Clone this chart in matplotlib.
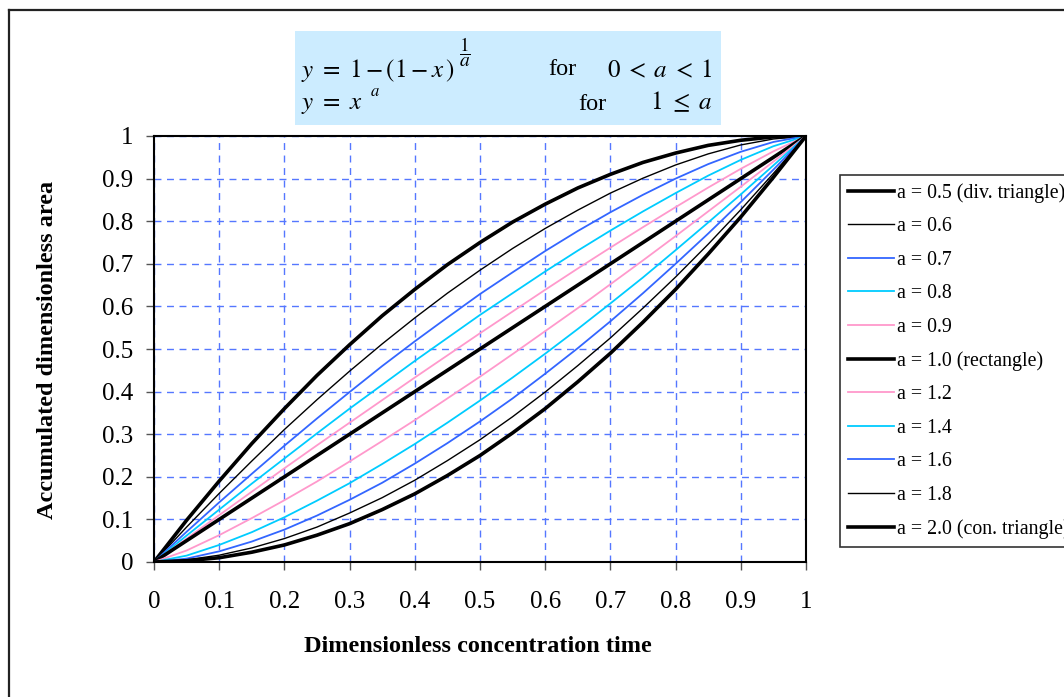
import matplotlib
matplotlib.use("Agg")
import matplotlib.pyplot as plt
from matplotlib.patches import Rectangle
from matplotlib.lines import Line2D

plt.rcParams['font.family'] = ['Liberation Serif', 'DejaVu Serif']
plt.rcParams['mathtext.fontset'] = 'stix'

# dimensionless concentration time
x = [0, 0.05, 0.1, 0.15, 0.2, 0.25, 0.3, 0.35, 0.4, 0.45, 0.5,
     0.55, 0.6, 0.65, 0.7, 0.75, 0.8, 0.85, 0.9, 0.95, 1]

y_05 = [0, 0.098, 0.190, 0.278, 0.360, 0.438, 0.510, 0.578, 0.640, 0.698, 0.750,
        0.798, 0.840, 0.878, 0.910, 0.938, 0.960, 0.978, 0.990, 0.998, 1]
y_06 = [0, 0.082, 0.161, 0.237, 0.311, 0.381, 0.448, 0.512, 0.573, 0.631, 0.685,
        0.736, 0.783, 0.826, 0.866, 0.901, 0.932, 0.958, 0.979, 0.993, 1]
y_07 = [0, 0.071, 0.140, 0.207, 0.273, 0.337, 0.399, 0.460, 0.518, 0.574, 0.629,
        0.680, 0.730, 0.777, 0.821, 0.862, 0.900, 0.934, 0.963, 0.986, 1]
y_08 = [0, 0.062, 0.123, 0.184, 0.243, 0.302, 0.360, 0.416, 0.472, 0.526, 0.580,
        0.631, 0.682, 0.731, 0.778, 0.823, 0.866, 0.907, 0.944, 0.976, 1]
y_09 = [0, 0.055, 0.110, 0.165, 0.220, 0.274, 0.327, 0.380, 0.433, 0.485, 0.537,
        0.588, 0.639, 0.689, 0.738, 0.786, 0.833, 0.879, 0.923, 0.964, 1]
y_10 = [0, 0.05, 0.1, 0.15, 0.2, 0.25, 0.3, 0.35, 0.4, 0.45, 0.5,
        0.55, 0.6, 0.65, 0.7, 0.75, 0.8, 0.85, 0.9, 0.95, 1]
y_12 = [0, 0.027, 0.063, 0.103, 0.145, 0.189, 0.236, 0.284, 0.333, 0.384, 0.435,
        0.488, 0.542, 0.596, 0.652, 0.708, 0.765, 0.823, 0.881, 0.940, 1]
y_14 = [0, 0.015, 0.040, 0.070, 0.105, 0.144, 0.185, 0.230, 0.277, 0.327, 0.379,
        0.433, 0.489, 0.547, 0.607, 0.668, 0.732, 0.797, 0.863, 0.931, 1]
y_16 = [0, 0.008, 0.025, 0.048, 0.076, 0.109, 0.146, 0.186, 0.231, 0.279, 0.330,
        0.384, 0.442, 0.502, 0.565, 0.631, 0.700, 0.771, 0.845, 0.921, 1]
y_18 = [0, 0.005, 0.016, 0.033, 0.055, 0.082, 0.115, 0.151, 0.192, 0.238, 0.287,
        0.341, 0.399, 0.461, 0.526, 0.596, 0.669, 0.746, 0.827, 0.912, 1]
y_20 = [0, 0.003, 0.010, 0.023, 0.040, 0.063, 0.090, 0.123, 0.160, 0.203, 0.250,
        0.303, 0.360, 0.423, 0.490, 0.563, 0.640, 0.723, 0.810, 0.903, 1]

labels = ['a = 0.5 (div. triangle)', 'a = 0.6', 'a = 0.7', 'a = 0.8', 'a = 0.9',
          'a = 1.0 (rectangle)', 'a = 1.2', 'a = 1.4', 'a = 1.6', 'a = 1.8',
          'a = 2.0 (con. triangle)']
series = [y_05, y_06, y_07, y_08, y_09, y_10, y_12, y_14, y_16, y_18, y_20]
colors = ['black', 'black', '#3366FF', '#00CCFF', '#FF99CC', 'black',
          '#FF99CC', '#00CCFF', '#3366FF', 'black', 'black']
widths = [2.6, 1.0, 1.3, 1.3, 1.3, 2.6, 1.3, 1.3, 1.3, 1.0, 2.6]

W, H = 1064, 697


def fx(px):
    return px / W


def fy(py):
    return 1 - py / H


fig = plt.figure(figsize=(10.64, 6.97), dpi=100)
ax = fig.add_axes([fx(154), fy(562), 652 / W, 426 / H])

for ys, c, lw, lab in zip(series, colors, widths, labels):
    ax.plot(x, ys, color=c, lw=lw, label=lab, solid_joinstyle='miter')

ax.set_xlim(0, 1)
ax.set_ylim(0, 1)
ticks = [0, 0.1, 0.2, 0.3, 0.4, 0.5, 0.6, 0.7, 0.8, 0.9, 1]
tick_labels = ['0', '0.1', '0.2', '0.3', '0.4', '0.5', '0.6', '0.7', '0.8', '0.9', '1']
ax.set_xticks(ticks)
ax.set_xticklabels(tick_labels)
ax.set_yticks(ticks)
ax.set_yticklabels(tick_labels)
ax.tick_params(labelsize=18, length=6, width=1, color='#555555', direction='out')
ax.tick_params(axis='x', pad=15)
ax.tick_params(axis='y', pad=9)
ax.grid(True, color='#5577FF', ls=(0, (5, 4)), lw=1)
ax.set_axisbelow(True)
for s in ax.spines.values():
    s.set_color('black')
    s.set_linewidth(1.5)

fig.text(fx(478), fy(647), 'Dimensionless concentration time',
         ha='center', va='center', fontsize=17.5, fontweight='bold')
fig.text(fx(48), fy(350), 'Accumulated dimensionless area',
         ha='center', va='center', rotation=90, fontsize=17.5, fontweight='bold')

leg = ax.legend(loc='upper left', bbox_to_anchor=(fx(840), fy(175)),
                bbox_transform=fig.transFigure, fontsize=14.3, frameon=True,
                fancybox=False, edgecolor='black', handlelength=2.3,
                handletextpad=0.15, labelspacing=0.73, borderpad=0.4,
                borderaxespad=0)
leg.get_frame().set_linewidth(1.2)

# formula box
fig.patches.append(Rectangle((fx(295), fy(125)), 426 / W, 94 / H,
                             transform=fig.transFigure, facecolor='#CCECFF',
                             edgecolor='none', zorder=0))
fs = 18
fig.text(fx(301), fy(77), r'$y\ =\ 1-(1-x\,)$', fontsize=fs,
         va='baseline', ha='left')
fig.text(fx(459), fy(52), r'$\dfrac{1}{a}$', fontsize=14,
         va='center', ha='left')
fig.text(fx(548), fy(75), 'for', fontsize=17.5, va='baseline', ha='left')
fig.text(fx(713), fy(77), r'$0\;<\;a\;<\;1$', fontsize=fs,
         va='baseline', ha='right')
fig.text(fx(301), fy(109), r'$y\ =\ x$', fontsize=fs,
         va='baseline', ha='left')
fig.text(fx(370), fy(96), r'$a$', fontsize=12, va='baseline', ha='left')
fig.text(fx(578), fy(110), 'for', fontsize=17.5, va='baseline', ha='left')
fig.text(fx(713), fy(109), r'$1\ \leq\ a$', fontsize=fs,
         va='baseline', ha='right')

# outer chart frame (cut off at right and bottom)
fig.lines.append(Line2D([fx(9), fx(9)], [0, fy(10)],
                        transform=fig.transFigure, color='#222222', lw=1.6))
fig.lines.append(Line2D([fx(9), 1], [fy(10), fy(10)],
                        transform=fig.transFigure, color='#222222', lw=1.6))

fig.savefig('out.png', dpi=100)
